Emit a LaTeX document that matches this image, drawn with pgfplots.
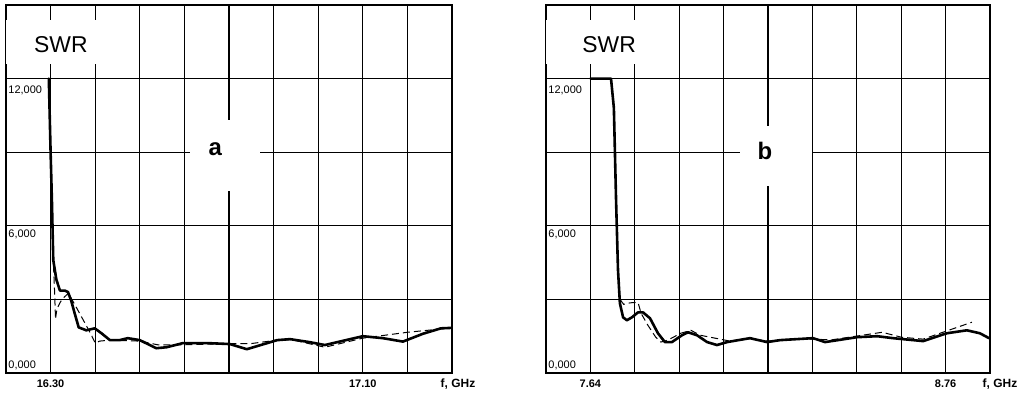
\documentclass[border=0pt]{standalone}
\usepackage{pgfplots}
\pgfplotsset{compat=1.18}
\usepackage{fontspec}
\setmainfont{Liberation Sans}

\pgfplotstableread{
f s
16.296 12.0
16.300 9.0
16.303 7.0
16.306 4.6
16.313 3.8
16.321 3.36
16.332 3.36
16.339 3.30
16.346 2.96
16.354 2.43
16.363 1.86
16.380 1.74
16.399 1.82
16.414 1.62
16.433 1.34
16.455 1.34
16.473 1.42
16.500 1.34
16.537 1.01
16.560 1.05
16.597 1.22
16.650 1.22
16.702 1.18
16.740 0.97
16.808 1.34
16.837 1.38
16.880 1.26
16.915 1.14
17.000 1.50
17.045 1.42
17.090 1.28
17.135 1.60
17.175 1.82
17.200 1.84
}\solidA

\pgfplotstableread{
f s
16.296 12.0
16.300 9.0
16.303 7.0
16.306 4.6
16.309 3.3
16.311 2.2
16.314 2.6
16.322 2.9
16.331 3.1
16.340 3.25
16.360 2.6
16.375 2.1
16.390 1.6
16.400 1.22
16.410 1.30
16.433 1.34
16.500 1.30
16.540 1.15
16.600 1.15
16.700 1.20
16.750 1.20
16.808 1.34
16.840 1.36
16.915 1.05
17.000 1.42
17.100 1.66
17.190 1.82
}\dashA

\pgfplotstableread{
f s
7.640 12.0
7.705 12.0
7.714 10.8
7.721 7.0
7.727 4.2
7.733 2.84
7.743 2.27
7.755 2.15
7.771 2.27
7.790 2.47
7.806 2.47
7.828 2.23
7.853 1.62
7.875 1.26
7.897 1.26
7.929 1.54
7.948 1.66
7.976 1.54
8.008 1.26
8.039 1.14
8.071 1.26
8.143 1.42
8.197 1.26
8.238 1.34
8.342 1.42
8.380 1.26
8.481 1.46
8.544 1.50
8.594 1.42
8.689 1.30
8.764 1.62
8.827 1.74
8.868 1.62
8.897 1.42
}\solidB

\pgfplotstableread{
f s
7.640 12.0
7.705 12.0
7.714 10.8
7.721 7.0
7.727 4.2
7.733 3.0
7.745 2.80
7.765 2.86
7.790 2.88
7.800 2.43
7.821 1.95
7.846 1.46
7.862 1.26
7.884 1.34
7.925 1.62
7.957 1.74
7.986 1.54
8.033 1.42
8.080 1.30
8.143 1.40
8.200 1.30
8.300 1.40
8.400 1.35
8.560 1.66
8.620 1.46
8.689 1.38
8.843 2.07
}\dashB

\begin{document}
\begin{tikzpicture}
\useasboundingbox (0bp,0bp) rectangle (1020bp,394bp);
\pgfplotsset{
  swr/.style={
    scale only axis, height=368bp,
    anchor=south west,
    ymin=0, ymax=15,
    ytick={0,3,6,9,12,15}, yticklabels={},
    grid=major,
    major grid style={black, line width=1.2bp},
    major tick length=0pt,
    axis line style={black, line width=1.6bp},
    xticklabel style={font=\bfseries\fontsize{11}{11}\selectfont, yshift=-3bp},
    clip=true,
  },
  solidc/.style={black, line width=2.6bp, line join=round, line cap=round},
  dashc/.style={black, line width=1bp, dash pattern=on 7bp off 4bp},
}
\begin{axis}[swr, at={(6bp,21bp)}, width=446bp,
  xmin=16.2, xmax=17.2,
  xtick={16.2,16.3,16.4,16.5,16.6,16.7,16.8,16.9,17.0,17.1,17.2},
  xticklabels={,16.30,,,,,,,17.10,,}]
  \fill[white] (axis cs:16.2,12.61) rectangle (axis cs:16.467,14.39);
  \fill[white] (axis cs:16.613,7.42) rectangle (axis cs:16.769,10.30);
  \node[font=\fontsize{23}{23}\selectfont] at (axis cs:16.323,13.38) {SWR};
  \node[font=\bfseries\fontsize{24}{24}\selectfont] at (axis cs:16.669,9.12) {a};
  \node[anchor=west,inner sep=0pt,font=\fontsize{11}{11}\selectfont] at (axis cs:16.205,11.51) {12,000};
  \node[anchor=west,inner sep=0pt,font=\fontsize{11}{11}\selectfont] at (axis cs:16.205,5.64) {6,000};
  \node[anchor=west,inner sep=0pt,font=\fontsize{11}{11}\selectfont] at (axis cs:16.205,0.32) {0,000};
  \addplot[dashc] table[x=f,y=s] {\dashA};
  \addplot[solidc] table[x=f,y=s] {\solidA};
\end{axis}
\begin{axis}[swr, at={(546bp,21bp)}, width=444bp,
  xmin=7.5, xmax=8.9,
  xtick={7.5,7.64,7.78,7.92,8.06,8.2,8.34,8.48,8.62,8.76,8.9},
  xticklabels={,7.64,,,,,,,,8.76,}]
  \fill[white] (axis cs:7.5,12.61) rectangle (axis cs:7.80,14.39);
  \fill[white] (axis cs:8.112,7.62) rectangle (axis cs:8.339,10.05);
  \node[font=\fontsize{23}{23}\selectfont] at (axis cs:7.699,13.38) {SWR};
  \node[font=\bfseries\fontsize{24}{24}\selectfont] at (axis cs:8.19,9.04) {b};
  \node[anchor=west,inner sep=0pt,font=\fontsize{11}{11}\selectfont] at (axis cs:7.507,11.51) {12,000};
  \node[anchor=west,inner sep=0pt,font=\fontsize{11}{11}\selectfont] at (axis cs:7.507,5.64) {6,000};
  \node[anchor=west,inner sep=0pt,font=\fontsize{11}{11}\selectfont] at (axis cs:7.507,0.32) {0,000};
  \addplot[dashc] table[x=f,y=s] {\dashB};
  \addplot[solidc] table[x=f,y=s] {\solidB};
\end{axis}
\draw[line width=2.8bp] (6bp,21bp) -- (452bp,21bp) -- (452bp,389bp);
\draw[line width=2.8bp] (546bp,21bp) -- (990bp,21bp) -- (990bp,389bp);
\node[font=\bfseries\fontsize{12}{12}\selectfont] at (458bp,10bp) {f, GHz};
\node[font=\bfseries\fontsize{12}{12}\selectfont] at (1000bp,10bp) {f, GHz};
\end{tikzpicture}
\end{document}
